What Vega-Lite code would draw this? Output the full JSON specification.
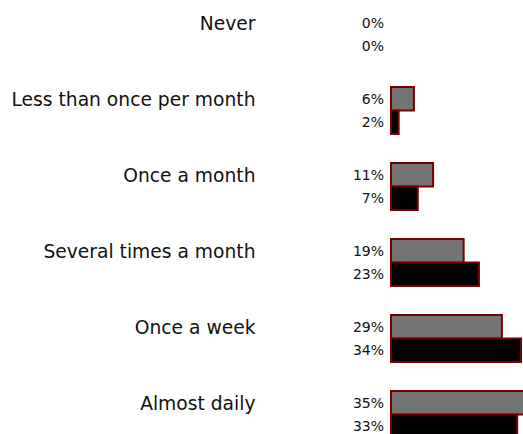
{
  "$schema": "https://vega.github.io/schema/vega-lite/v6.json",
  "autosize": {"type": "none"},
  "padding": {"left": 391, "top": 0, "right": 2, "bottom": 0},
  "width": 130,
  "height": 434,
  "background": "white",
  "data": {
    "values": [
      {"frequency": "Never", "series": "Series 1", "value": 0},
      {"frequency": "Never", "series": "Series 2", "value": 0},
      {"frequency": "Less than once per month", "series": "Series 1", "value": 0.06},
      {"frequency": "Less than once per month", "series": "Series 2", "value": 0.02},
      {"frequency": "Once a month", "series": "Series 1", "value": 0.11},
      {"frequency": "Once a month", "series": "Series 2", "value": 0.07},
      {"frequency": "Several times a month", "series": "Series 1", "value": 0.19},
      {"frequency": "Several times a month", "series": "Series 2", "value": 0.23},
      {"frequency": "Once a week", "series": "Series 1", "value": 0.29},
      {"frequency": "Once a week", "series": "Series 2", "value": 0.34},
      {"frequency": "Almost daily", "series": "Series 1", "value": 0.35},
      {"frequency": "Almost daily", "series": "Series 2", "value": 0.33}
    ]
  },
  "config": {"view": {"stroke": null}},
  "encoding": {
    "y": {
      "field": "frequency",
      "type": "nominal",
      "sort": ["Never", "Less than once per month", "Once a month", "Several times a month", "Once a week", "Almost daily"],
      "scale": {"paddingInner": 0.38, "paddingOuter": 0.145, "range": [0, 449]},
      "axis": {
        "title": null,
        "domain": false,
        "ticks": false,
        "tickSize": 0,
        "labelPadding": 136,
        "labelOffset": -10.5,
        "labelFont": "DejaVu Sans",
        "labelFontSize": 18.7,
        "labelColor": "#111111",
        "labelLimit": 400,
        "labelBaseline": "middle"
      }
    },
    "yOffset": {
      "field": "series",
      "type": "nominal",
      "scale": {"paddingInner": 0, "paddingOuter": 0}
    }
  },
  "layer": [
    {
      "transform": [{"filter": "datum.value > 0"}],
      "mark": {"type": "bar", "stroke": "#7a0000", "strokeWidth": 2},
      "encoding": {
        "x": {
          "field": "value",
          "type": "quantitative",
          "scale": {"domain": [0, 0.34], "nice": false, "zero": true},
          "axis": null
        },
        "color": {
          "field": "series",
          "type": "nominal",
          "scale": {"domain": ["Series 1", "Series 2"], "range": ["#747474", "#000000"]},
          "legend": null
        }
      }
    },
    {
      "mark": {"type": "text", "align": "right", "baseline": "middle", "dx": -7, "dy": 1, "font": "DejaVu Sans", "fontSize": 14, "color": "#111111"},
      "encoding": {
        "x": {"datum": 0, "type": "quantitative"},
        "text": {"field": "value", "type": "quantitative", "format": ".0%"}
      }
    }
  ]
}
